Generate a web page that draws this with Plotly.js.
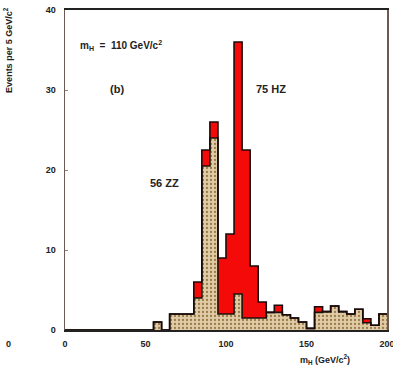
<!DOCTYPE html>
<html>
<head>
<meta charset="utf-8">
<script src="https://cdn.plot.ly/plotly-3.0.1.min.js"></script>
<style>
html,body{margin:0;padding:0;background:#fff;}
#chart{width:393px;height:378px;}
</style>
</head>
<body>
<div id="chart"></div>
<script>
// Bin left edges (GeV/c^2), 5 GeV bins
var binLeft = [0,5,10,15,20,25,30,35,40,45,50,55,60,65,70,75,80,85,90,95,
               100,105,110,115,120,125,130,135,140,145,150,155,160,165,170,175,180,185,190,195];
var binWidth = 5;
// ZZ background (tan, bottom of stack)
var zzEvents = [0,0,0,0,0,0,0,0,0,0,0,1,0,2,2,2,4,20.5,24,2,
                2,4.5,1.5,1.5,1.5,2.2,2.2,1.9,1.5,1,0.2,2.2,2.3,3,2.3,2,2.6,0.9,0.6,2];
// HZ signal (red, stacked on top)
var hzEvents = [0,0,0,0,0,0,0,0,0,0,0,0,0,0,0,0,2,2,2,7,
                10,31.5,21,6.5,2,0,0.9,0,0,0,0,0.7,0,0,0,0,0,0.5,0,0];
var xTicks = [0,50,100,150,200];
var yTicks = [0,10,20,30,40];

var edges = binLeft.concat([binLeft[binLeft.length-1] + binWidth]);
var zzStep = zzEvents.concat([zzEvents[zzEvents.length-1]]);
var totEvents = zzEvents.map(function(v,i){return v + hzEvents[i];});
var totStep = totEvents.concat([totEvents[totEvents.length-1]]);

var traces = [
  {
    x: edges, y: zzStep, type: 'scatter', mode: 'lines',
    line: {shape: 'hv', color: '#1a1208', width: 1.6},
    fill: 'tozeroy', fillcolor: '#d9c49a',
    fillpattern: {shape: '.', fgcolor: '#9c7a48', bgcolor: '#dfcca6', size: 4, solidity: 0.25},
    hoverinfo: 'skip', showlegend: false
  },
  {
    x: edges, y: totStep, type: 'scatter', mode: 'lines',
    line: {shape: 'hv', color: '#1a0a0a', width: 1.6},
    fill: 'tonexty', fillcolor: '#f50a0a',
    hoverinfo: 'skip', showlegend: false
  }
];

var tf = {family: 'Liberation Sans, Arial, sans-serif', size: 9, color: '#222', weight: 'bold'};
var layout = {
  width: 393, height: 378,
  margin: {l: 65, r: 6, t: 10, b: 48},
  paper_bgcolor: '#ffffff', plot_bgcolor: '#ffffff',
  showlegend: false,
  xaxis: {
    range: [0, 200], tickvals: xTicks, ticktext: xTicks.map(String),
    showgrid: false, zeroline: false, automargin: false,
    showline: true, linecolor: '#222', linewidth: 2, mirror: true,
    ticks: '', tickfont: tf, ticklabelstandoff: 4, ticklabeloverflow: 'allow'
  },
  yaxis: {
    range: [0, 40], tickvals: yTicks, ticktext: yTicks.map(String),
    showgrid: false, zeroline: false, automargin: false,
    showline: true, linecolor: '#6d5a52', linewidth: 1.5, mirror: true,
    ticks: 'inside', ticklen: 3, tickcolor: '#888', tickfont: tf, ticklabelstandoff: 6
  },
  annotations: [
    {xref: 'x', yref: 'y', x: 8, y: 35.6, xanchor: 'left', yanchor: 'middle', showarrow: false,
     text: 'm<sub>H</sub>  =  110 GeV/c<sup>2</sup>',
     font: {family: 'Liberation Sans, Arial, sans-serif', size: 10, color: '#222', weight: 'bold'}},
    {xref: 'x', yref: 'y', x: 32, y: 30.1, showarrow: false, text: '(b)',
     font: {family: 'Liberation Sans, Arial, sans-serif', size: 11, color: '#222', weight: 'bold'}},
    {xref: 'x', yref: 'y', x: 128, y: 30.1, showarrow: false, text: '75 HZ',
     font: {family: 'Liberation Sans, Arial, sans-serif', size: 11, color: '#222', weight: 'bold'}},
    {xref: 'x', yref: 'y', x: 61.5, y: 18.4, showarrow: false, text: '56 ZZ',
     font: {family: 'Liberation Sans, Arial, sans-serif', size: 11, color: '#222', weight: 'bold'}},
    {xref: 'paper', yref: 'paper', x: 0.891, y: -0.119, showarrow: false,
     text: 'm<sub>H</sub> (GeV/c<sup>2</sup>)',
     font: {family: 'Liberation Sans, Arial, sans-serif', size: 9, color: '#222', weight: 'bold'}},
    {xref: 'paper', yref: 'paper', x: -0.177, y: 1.016, xanchor: 'center', yanchor: 'top',
     textangle: -90, showarrow: false,
     text: 'Events per 5 GeV/c<sup>2</sup>',
     font: {family: 'Liberation Sans, Arial, sans-serif', size: 9, color: '#222', weight: 'bold'}},
    {xref: 'paper', yref: 'paper', x: -0.19, y: -0.065, showarrow: false, text: '0',
     font: {family: 'Liberation Sans, Arial, sans-serif', size: 9, color: '#222', weight: 'bold'}}
  ]
};

Plotly.newPlot('chart', traces, layout, {staticPlot: true, displayModeBar: false});
</script>
</body>
</html>
